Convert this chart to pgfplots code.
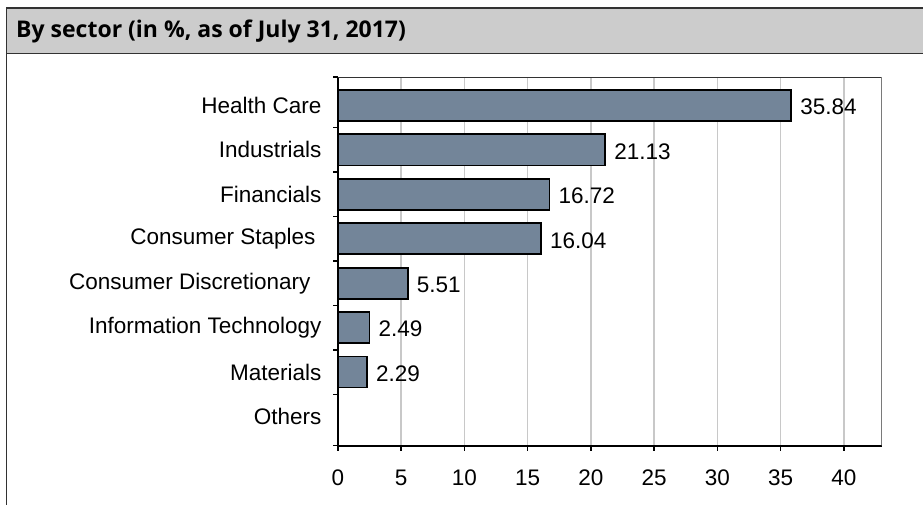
\documentclass[border=0pt]{standalone}
\usepackage{pgfplots}
\pgfplotsset{compat=1.18}
\usepackage{fontspec}
\setmainfont{Liberation Sans}
\newfontfamily\titlefont{Open Sans}
\definecolor{barfill}{RGB}{115,133,153}
\definecolor{titlebg}{RGB}{204,204,204}
\definecolor{gridc}{RGB}{200,200,200}
\definecolor{framec}{RGB}{50,50,50}
\begin{document}
\begin{tikzpicture}[x=1pt,y=1pt]
\useasboundingbox (0,0) rectangle (923,504);
% title bar
\fill[titlebg] (6.5,496) rectangle (925,450.5);
\draw[framec, line width=1.5pt] (6.5,-2) -- (6.5,496) -- (925,496);
\draw[framec, line width=1.5pt] (6.5,450.5) -- (925,450.5);
\node[anchor=base west, inner sep=0pt, font=\titlefont\bfseries\fontsize{23}{27}\selectfont] at (16,466.3) {By sector (in \%, as of July 31, 2017)};
\begin{axis}[
  at={(338pt,58.3pt)}, anchor=south west,
  scale only axis, width=543.7pt, height=368.7pt,
  xbar, bar width=0.7,
  xmin=0, xmax=43, ymin=0.342, ymax=8.642,
  axis x line*=bottom, axis y line*=left,
  axis line style={line width=2.2pt, black},
  xtick={0,5,...,40},
  ytick={1,...,8},
  yticklabels={Others, Materials, Information Technology, Consumer Discretionary\kern11pt, Consumer Staples\kern6pt, Financials, Industrials, Health Care},
  minor ytick={0.342,1.5,2.5,3.5,4.5,5.5,6.5,7.5,8.642},
  major y tick style={draw=none},
  minor y tick style={draw=black, line width=1.5pt},
  x tick style={draw=black, line width=1.5pt},
  tick align=outside,
  major tick length=5pt, minor tick length=5pt,
  xmajorgrids,
  major grid style={draw=gridc, line width=1.5pt},
  every tick label/.append style={font=\fontsize{22.5}{27}\selectfont},
  xticklabel style={yshift=-16pt},
  yticklabel style={xshift=-8pt},
  /pgf/number format/assume math mode=true,
  nodes near coords={\pgfmathprintnumber[fixed, fixed zerofill, precision=2]{\pgfplotspointmeta}},
  point meta=x,
  every node near coord/.append style={font=\fontsize{22.5}{27}\selectfont, anchor=west, xshift=5pt, yshift=-1.5pt, black},
]
\addplot[fill=barfill, draw=black, line width=1.8pt] coordinates {
  (35.84,8) (21.13,7) (16.72,6) (16.04,5) (5.51,4) (2.49,3) (2.29,2)
};
\draw[framec, line width=1.3pt] (rel axis cs:0,1) -- (rel axis cs:1,1) -- (rel axis cs:1,0);
\end{axis}
\end{tikzpicture}
\end{document}
